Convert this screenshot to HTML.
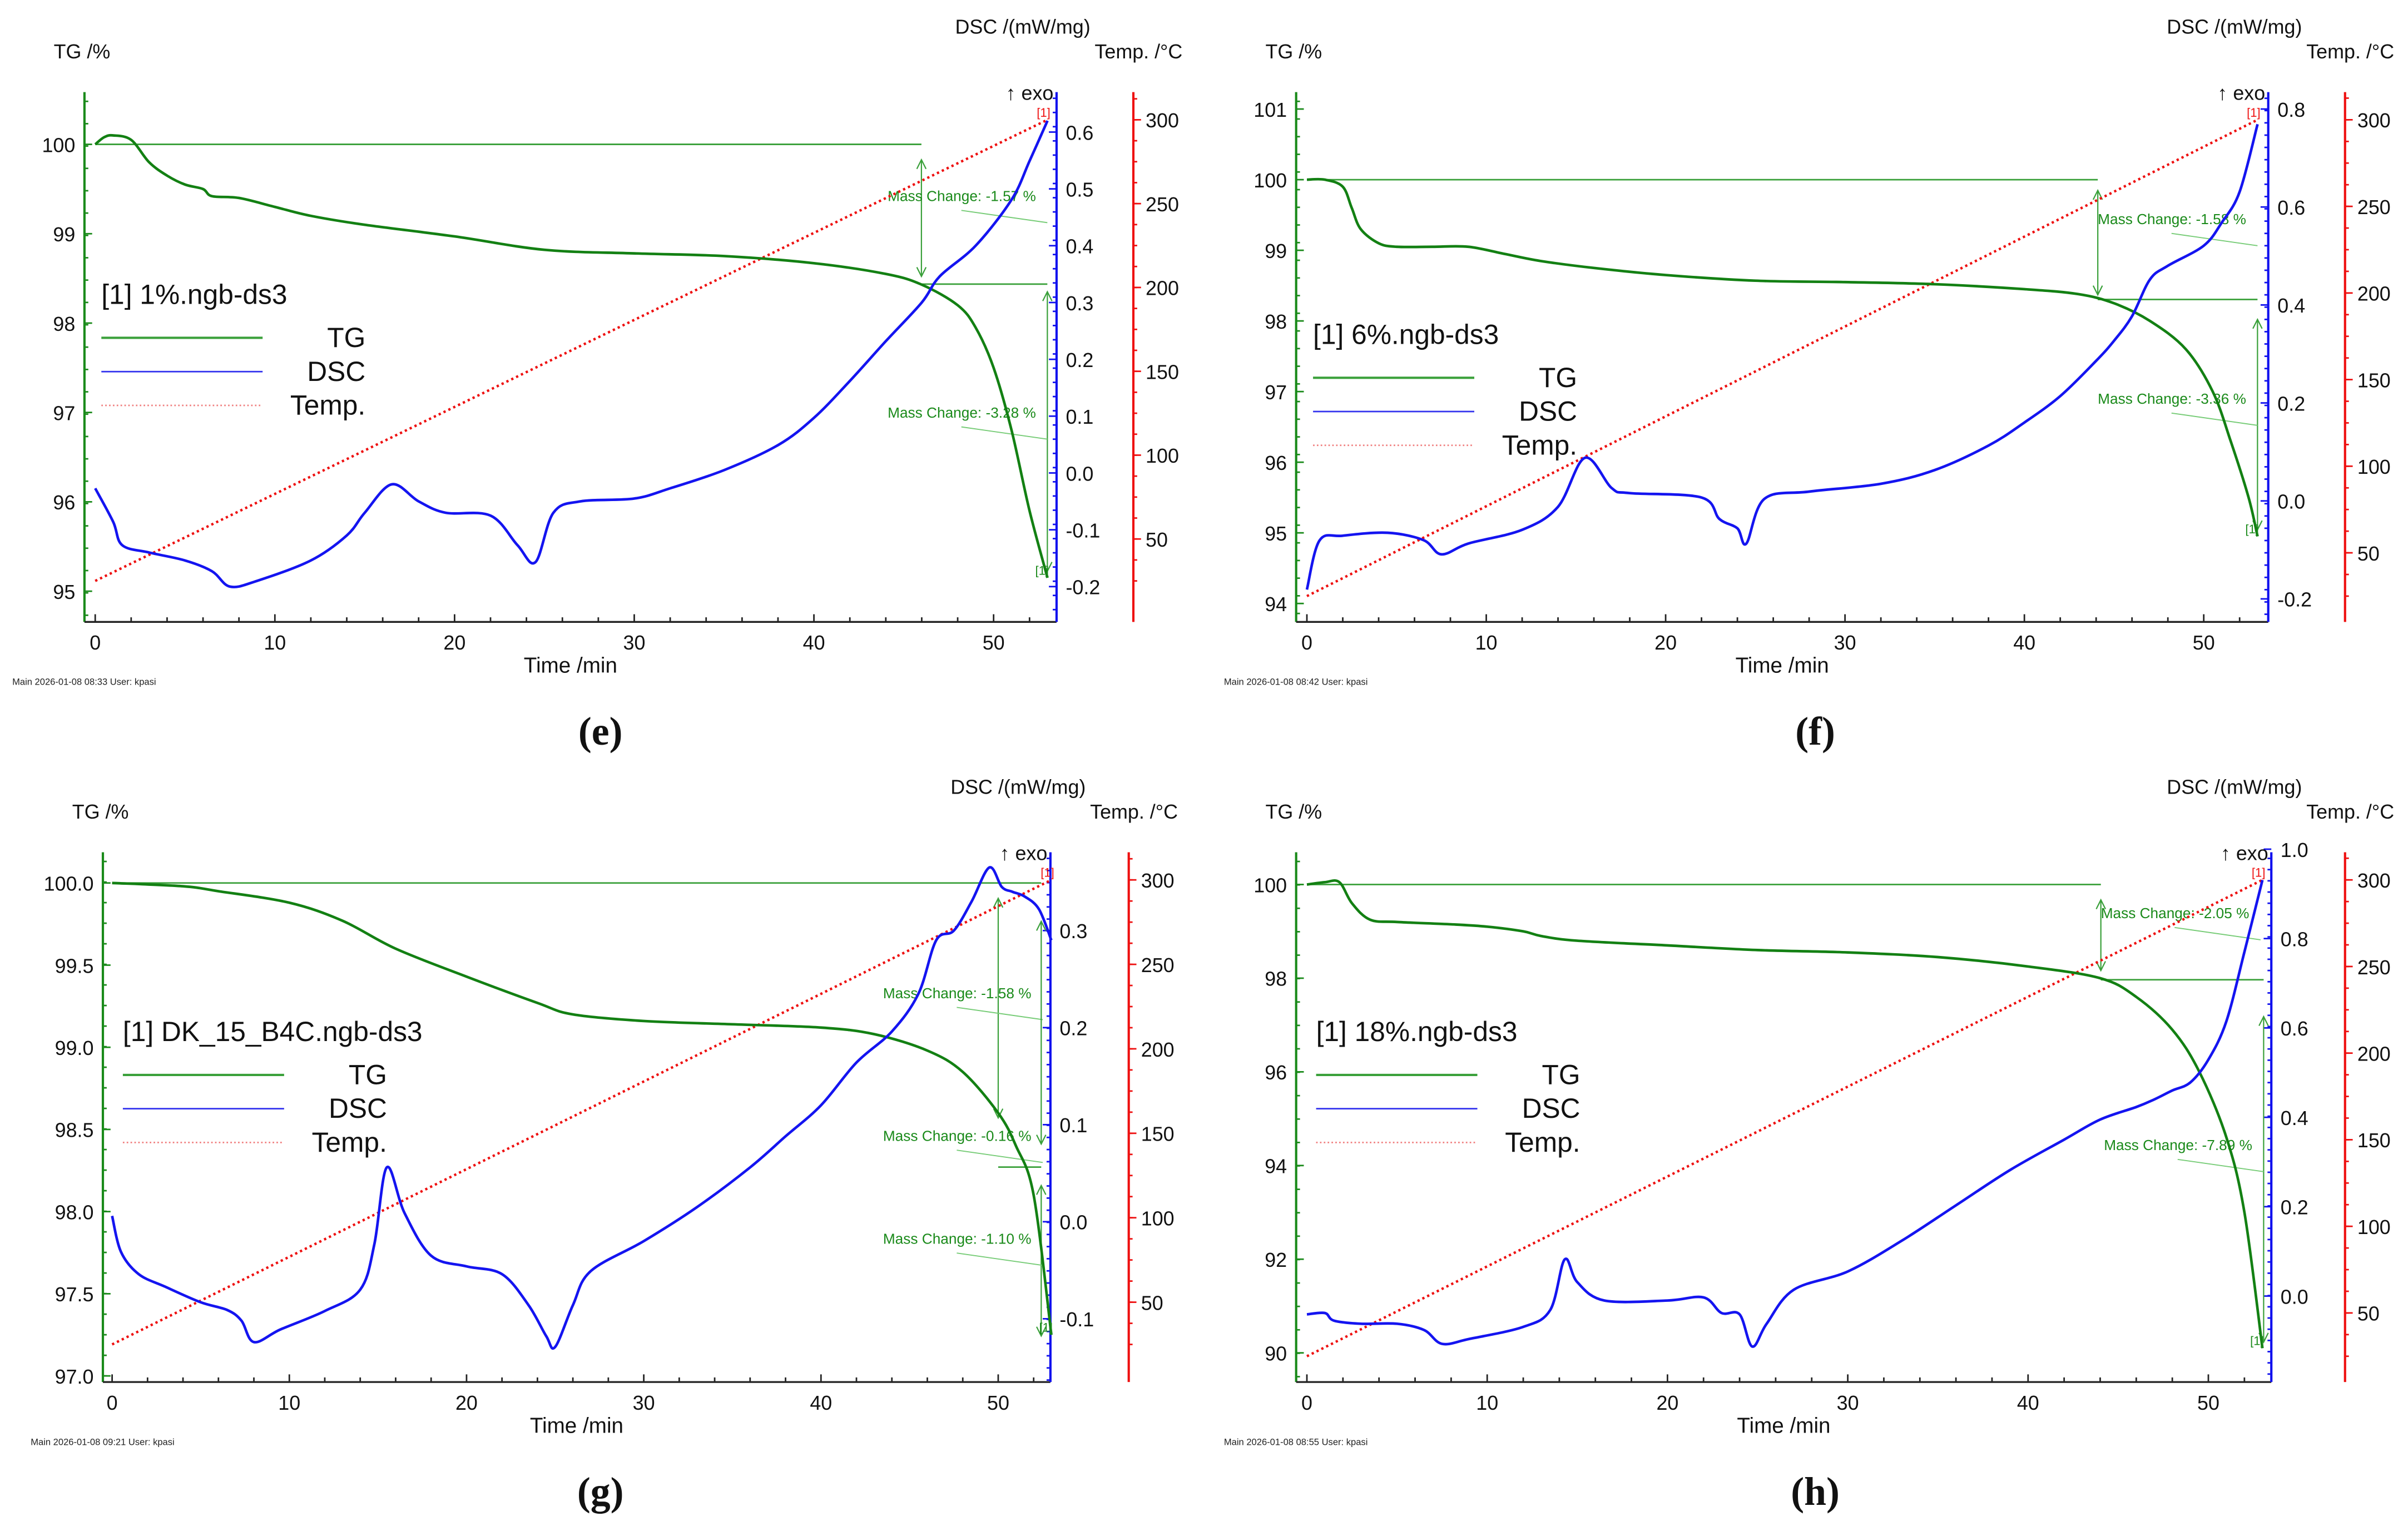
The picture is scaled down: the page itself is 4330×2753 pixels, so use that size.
<!DOCTYPE html>
<html><head><meta charset="utf-8"><style>
html,body{margin:0;padding:0;background:#fff;}
svg{display:block;}
text{font-family:"Liberation Sans",Arial,sans-serif;}
text.cap{font-family:"Liberation Serif",serif;}
</style></head><body>
<svg id="fig" xmlns="http://www.w3.org/2000/svg" width="4330" height="2753" viewBox="0 0 1568 997" preserveAspectRatio="none">
<rect width="1568" height="997" fill="#fff"/>
</svg>
<script>
// ---- Panel (e) data ----
const eTgTime = [0,0.5,1,2,3,4,5,6,6.5,8,10,12,15,20,25,30,35,40,44,46,48,49,50,51,52,53];
const eTgVal  = [100,100.08,100.1,100.05,99.8,99.65,99.55,99.5,99.42,99.4,99.3,99.2,99.1,98.97,98.82,98.78,98.75,98.67,98.55,98.43,98.2,97.95,97.5,96.8,95.9,95.15];
const eDscTime = [0,1,1.5,3,5,6.5,7.5,9,12,14,15,16.5,18,19.5,22,23.5,24.5,25.5,27,30,32,35,38,40,42,44,46,47,49,51,52,53];
const eDscVal  = [-0.027,-0.086,-0.127,-0.14,-0.154,-0.173,-0.2,-0.19,-0.154,-0.11,-0.07,-0.02,-0.05,-0.07,-0.075,-0.127,-0.157,-0.07,-0.05,-0.045,-0.027,0.005,0.049,0.097,0.162,0.232,0.3,0.346,0.4,0.481,0.549,0.62];
// ---- Panel (f) data ----
const fTgTime = [0,1,2,2.5,3,4,5,7,9,11,13,16,20,25,30,35,40,43,45,47,49,50.5,51.5,52.5,53];
const fTgVal  = [100,100,99.9,99.6,99.3,99.1,99.05,99.05,99.05,98.95,98.85,98.75,98.65,98.57,98.55,98.52,98.45,98.38,98.25,98.0,97.6,97.0,96.3,95.5,94.95];
const fDscTime = [0,0.7,2,4.5,6.5,7.5,9,12,14,15.5,17,18,22,23,24,24.5,25.5,28,32,35,38,40,42,44,45,46,47,48,50,51,52,53];
const fDscVal  = [-0.181,-0.081,-0.071,-0.065,-0.08,-0.109,-0.087,-0.059,-0.012,0.088,0.026,0.016,0.007,-0.037,-0.056,-0.087,0.004,0.019,0.035,0.063,0.113,0.16,0.214,0.286,0.327,0.377,0.452,0.48,0.521,0.568,0.631,0.769];
// ---- Panel (g) data ----
const gTgTime = [0,4,6,10,13,16,20,24,26,30,35,40,43,46,48,50,51,52,53];
const gTgVal  = [100,99.98,99.95,99.88,99.77,99.6,99.43,99.27,99.2,99.16,99.14,99.12,99.08,98.98,98.85,98.6,98.4,98.1,97.25];
const gDscTime = [0,0.5,1.5,3,5,6.5,7.3,8,9.5,12,14,14.8,15.5,16.5,18,20,22,23.5,24.5,25,26,27,30,33,36,38,40,42,44,45.5,46.5,47.5,48.5,49.5,50.2,50.8,51.5,52.3,53];
const gDscVal  = [0.006,-0.031,-0.054,-0.067,-0.083,-0.091,-0.102,-0.124,-0.111,-0.092,-0.07,-0.023,0.056,0.009,-0.035,-0.046,-0.054,-0.086,-0.118,-0.129,-0.086,-0.051,-0.02,0.015,0.056,0.088,0.12,0.164,0.196,0.235,0.29,0.3,0.33,0.365,0.345,0.34,0.335,0.322,0.29];
// ---- Panel (h) data ----
const hTgTime = [0,1,1.8,2.5,3.5,5,8,10,12,13,15,20,25,30,35,40,44,46,48,49.5,51,52,53];
const hTgVal  = [100,100.05,100.05,99.6,99.25,99.2,99.15,99.1,99.0,98.9,98.8,98.7,98.6,98.55,98.45,98.25,98.0,97.6,96.9,96.0,94.6,93.0,90.1];
const hDscTime = [0,1,1.5,3,5,6.5,7.5,9,12,13.5,14.3,15,16.5,20,22,23,24,24.7,25.5,27,30,33,36,39,42,44,46,47,48,49,50,51,52,53];
const hDscVal  = [-0.041,-0.038,-0.055,-0.062,-0.062,-0.076,-0.107,-0.096,-0.069,-0.031,0.082,0.031,-0.01,-0.01,-0.003,-0.038,-0.041,-0.113,-0.062,0.014,0.055,0.124,0.203,0.282,0.35,0.395,0.423,0.44,0.46,0.478,0.529,0.615,0.77,0.931];
// Temperature program (all panels)
const tempTime = [0,53];
const tempVal  = [25,300];
const timeTicks = [0,10,20,30,40,50];
const tempTicks = [50,100,150,200,250,300];
const eTgTicks = [95,96,97,98,99,100];
const fTgTicks = [94,95,96,97,98,99,100,101];
const gTgTicks = [97.0,97.5,98.0,98.5,99.0,99.5,100.0];
const hTgTicks = [90,92,94,96,98,100];
const eDscTicks = [-0.2,-0.1,0.0,0.1,0.2,0.3,0.4,0.5,0.6];
const fDscTicks = [-0.2,0.0,0.2,0.4,0.6,0.8];
const gDscTicks = [-0.1,0.0,0.1,0.2,0.3];
const hDscTicks = [0.0,0.2,0.4,0.6,0.8,1.0];

const NS='http://www.w3.org/2000/svg';
const svg=document.getElementById('fig');
function mk(tag,attrs,parent,txt){const el=document.createElementNS(NS,tag);for(const k in attrs)el.setAttribute(k,attrs[k]);if(txt!==undefined)el.textContent=txt;(parent||svg).appendChild(el);return el;}
function smooth(pts){let d='M'+pts[0][0].toFixed(2)+','+pts[0][1].toFixed(2);for(let i=0;i<pts.length-1;i++){const p0=pts[Math.max(0,i-1)],p1=pts[i],p2=pts[i+1],p3=pts[Math.min(pts.length-1,i+2)];const c1=[p1[0]+(p2[0]-p0[0])/6,p1[1]+(p2[1]-p0[1])/6],c2=[p2[0]-(p3[0]-p1[0])/6,p2[1]-(p3[1]-p1[1])/6];d+=' C'+c1[0].toFixed(2)+','+c1[1].toFixed(2)+' '+c2[0].toFixed(2)+','+c2[1].toFixed(2)+' '+p2[0].toFixed(2)+','+p2[1].toFixed(2);}return d;}

function panel(c){
  const g=mk('g',{});
  
  
  const X=t=>c.x0+t*c.xs, YT=v=>c.tgY0+(c.tgV0-v)*c.tgS, YD=v=>c.dY0+(c.dV0-v)*c.dS, YR=v=>c.rY0+(300-v)*c.rS;
  const GREEN='#1a8a1a', BLUE='#1010ee', RED='#ee1010';
  let a=mk('line',{x1:c.ax,y1:c.top,x2:c.ax,y2:c.bottom,stroke:GREEN,'stroke-width':1.5},g);
   
  a=mk('line',{x1:c.ax,y1:c.bottom,x2:c.bx,y2:c.bottom,stroke:'#222','stroke-width':1.2},g);
   
  a=mk('line',{x1:c.bx,y1:c.top,x2:c.bx,y2:c.bottom,stroke:BLUE,'stroke-width':1.5},g);
   
  a=mk('line',{x1:c.rx,y1:c.top,x2:c.rx,y2:c.bottom,stroke:RED,'stroke-width':1.5},g);
   
  for(let t=0;t<=53;t+=2){mk('line',{x1:X(t),y1:c.bottom,x2:X(t),y2:c.bottom-(t%10===0?5:3),stroke:'#222','stroke-width':1},g);}
  timeTicks.forEach(t=>{const e=mk('text',{x:X(t),y:c.bottom+18,'font-size':13,'text-anchor':'middle',fill:'#111'},g,String(t));});
  c.tgTicks.forEach(v=>{mk('line',{x1:c.ax,y1:YT(v),x2:c.ax+5,y2:YT(v),stroke:GREEN,'stroke-width':1},g);
    const e=mk('text',{x:c.ax-6,y:YT(v)+5,'font-size':13,'text-anchor':'end',fill:'#111'},g,c.tgFmt(v));});
  for(let y=c.top+6;y<c.bottom;y+=c.tgMinor){mk('line',{x1:c.ax,y1:y,x2:c.ax+2.5,y2:y,stroke:GREEN,'stroke-width':1},g);}
  c.dTicks.forEach(v=>{mk('line',{x1:c.bx,y1:YD(v),x2:c.bx-5,y2:YD(v),stroke:BLUE,'stroke-width':1},g);
    const e=mk('text',{x:c.bx+6,y:YD(v)+5,'font-size':13,'text-anchor':'start',fill:'#111'},g,v.toFixed(1));});
  for(let y=c.top+4;y<c.bottom;y+=c.dMinor){mk('line',{x1:c.bx,y1:y,x2:c.bx-2.5,y2:y,stroke:BLUE,'stroke-width':1},g);}
  tempTicks.forEach(v=>{mk('line',{x1:c.rx,y1:YR(v),x2:c.rx+5,y2:YR(v),stroke:RED,'stroke-width':1},g);
    const e=mk('text',{x:c.rx+8,y:YR(v)+5,'font-size':13,'text-anchor':'start',fill:'#111'},g,String(v));});
  for(let v=25;v<=325;v+=12.5){const y=YR(v);if(y>c.top&&y<c.bottom)mk('line',{x1:c.rx,y1:y,x2:c.rx+2.5,y2:y,stroke:RED,'stroke-width':1},g);}
  let e=mk('text',{x:c.ax-20,y:c.top-22,'font-size':13,fill:'#111'},g,'TG /%');
  e=mk('text',{x:c.rx-28,y:c.top-38,'font-size':13,'text-anchor':'end',fill:'#111'},g,'DSC /(mW/mg)');
  e=mk('text',{x:c.rx+32,y:c.top-22,'font-size':13,'text-anchor':'end',fill:'#111'},g,'Temp. /°C');
  e=mk('text',{x:c.bx-2,y:c.top+5,'font-size':13,'text-anchor':'end',fill:'#111'},g,'↑ exo');
  e=mk('text',{x:(c.ax+c.bx)/2,y:c.bottom+33,'font-size':14,'text-anchor':'middle',fill:'#111'},g,'Time /min');
  e=mk('text',{x:c.ax-47,y:c.bottom+41,'font-size':6,fill:'#222'},g,'Main    '+c.stamp+'    User: kpasi');
  e=mk('text',{class:'cap',x:c.capX,y:c.bottom+80,'font-size':26,'font-weight':'bold','text-anchor':'middle',fill:'#111'},g,'('+c.id+')');
  c.ann.forEach(n=>{
    if(n.h) mk('line',{x1:n.h[0],y1:n.h[1],x2:n.h[2],y2:n.h[1],stroke:'#3aa03a','stroke-width':1},g);
    if(n.v){mk('line',{x1:n.v[0],y1:n.v[1],x2:n.v[0],y2:n.v[2],stroke:'#3aa03a','stroke-width':0.8},g);
      mk('path',{d:`M${n.v[0]-3},${n.v[1]+6}L${n.v[0]},${n.v[1]}L${n.v[0]+3},${n.v[1]+6}M${n.v[0]-3},${n.v[2]-6}L${n.v[0]},${n.v[2]}L${n.v[0]+3},${n.v[2]-6}`,stroke:'#3aa03a',fill:'none','stroke-width':0.8},g);}
    if(n.t){const q=mk('text',{x:n.t[0],y:n.t[1],'font-size':9.5,fill:'#1a8a1a'},g,n.t[2]);
      mk('line',{x1:n.t[0]+48,y1:n.t[1]+6,x2:n.t[0]+104,y2:n.t[1]+14,stroke:'#7c7','stroke-width':0.7},g);}
  });
  const temp=mk('path',{d:'M'+X(tempTime[0])+','+YR(tempVal[0])+' L'+X(tempTime[1])+','+YR(tempVal[1]),stroke:RED,'stroke-width':1.6,'stroke-dasharray':'1.5,2',fill:'none'},g);
   
  const tg=mk('path',{d:smooth(c.tgT.map((t,i)=>[X(t),YT(c.tgV[i])])),stroke:'#138013','stroke-width':1.7,fill:'none'},g);
   
  const ds=mk('path',{d:smooth(c.dT.map((t,i)=>[X(t),YD(c.dV[i])])),stroke:'#1414f0','stroke-width':1.7,fill:'none'},g);
   
  mk('text',{x:X(53)-7,y:YR(300)-2,'font-size':8,fill:RED},g,'[1]');
  mk('text',{x:X(53)-8,y:YT(c.tgV[c.tgV.length-1])-2,'font-size':8,fill:GREEN},g,'[1]');
  const L=c.leg;
  e=mk('text',{x:L[0],y:L[1],'font-size':18,fill:'#111'},g,c.legTitle);
  [['TG','#3aa03a','',1.5],['DSC','#3333ee','',1],['Temp.','#f08080','1,1.5',1]].forEach((s,i)=>{
    const y=L[1]+22+i*22;
    mk('line',{x1:L[0],y1:y,x2:L[0]+105,y2:y,stroke:s[1],'stroke-width':s[3],'stroke-dasharray':s[2]},g);
    const q=mk('text',{x:L[0]+172,y:y+6,'font-size':18,'text-anchor':'end',fill:'#111'},g,s[0]);
    
  });
}

panel({id:'e',ax:55,top:60,bottom:405,bx:688,rx:738,x0:62,xs:11.7,tgV0:100,tgY0:94,tgS:58.2,tgTicks:eTgTicks,tgFmt:v=>String(v),tgMinor:14.55,
  dV0:0.6,dY0:86,dS:370,dTicks:eDscTicks,dMinor:9.25,rY0:78,rS:1.092,tgT:eTgTime,tgV:eTgVal,dT:eDscTime,dV:eDscVal,
  stamp:'2026-01-08 08:33',capX:391,leg:[66,198],legTitle:'[1] 1%.ngb-ds3',
  ann:[{h:[62,94,600],v:[600,104,180],t:[578,131,'Mass Change: -1.57 %']},{h:[600,185,682],v:[682,190,372],t:[578,272,'Mass Change: -3.28 %']}]});
panel({id:'f',ax:844,top:60,bottom:405,bx:1477,rx:1527,x0:851,xs:11.68,tgV0:101,tgY0:71,tgS:46,tgTicks:fTgTicks,tgFmt:v=>String(v),tgMinor:11.5,
  dV0:0.8,dY0:71,dS:319,dTicks:fDscTicks,dMinor:8,rY0:78,rS:1.128,tgT:fTgTime,tgV:fTgVal,dT:fDscTime,dV:fDscVal,
  stamp:'2026-01-08 08:42',capX:1182,leg:[855,224],legTitle:'[1] 6%.ngb-ds3',
  ann:[{h:[851,117,1366],v:[1366,124,192],t:[1366,146,'Mass Change: -1.58 %']},{h:[1366,195,1470],v:[1470,208,345],t:[1366,263,'Mass Change: -3.36 %']}]});
panel({id:'g',ax:67,top:555,bottom:900,bx:684,rx:735,x0:73,xs:11.54,tgV0:100,tgY0:575,tgS:107,tgTicks:gTgTicks,tgFmt:v=>v.toFixed(1),tgMinor:13.4,
  dV0:0.3,dY0:606,dS:632,dTicks:gDscTicks,dMinor:7.9,rY0:573,rS:1.1,tgT:gTgTime,tgV:gTgVal,dT:gDscTime,dV:gDscVal,
  stamp:'2026-01-08 09:21',capX:391,leg:[80,678],legTitle:'[1] DK_15_B4C.ngb-ds3',
  ann:[{h:[73,575,678]},{v:[650,585,728],t:[575,650,'Mass Change: -1.58 %']},{h:[650,760,678],v:[678,600,745],t:[575,743,'Mass Change: -0.16 %']},{v:[678,772,870],t:[575,810,'Mass Change: -1.10 %']}]});
panel({id:'h',ax:844,top:555,bottom:900,bx:1479,rx:1527,x0:851,xs:11.74,tgV0:100,tgY0:576,tgS:30.5,tgTicks:hTgTicks,tgFmt:v=>String(v),tgMinor:15.25,
  dV0:1.0,dY0:553,dS:291,dTicks:hDscTicks,dMinor:7.3,rY0:573,rS:1.128,tgT:hTgTime,tgV:hTgVal,dT:hDscTime,dV:hDscVal,
  stamp:'2026-01-08 08:55',capX:1182,leg:[857,678],legTitle:'[1] 18%.ngb-ds3',
  ann:[{h:[851,576,1368],v:[1368,586,632],t:[1368,598,'Mass Change: -2.05 %']},{h:[1368,638,1474],v:[1474,662,874],t:[1370,749,'Mass Change: -7.89 %']}]});
</script>
</body></html>
